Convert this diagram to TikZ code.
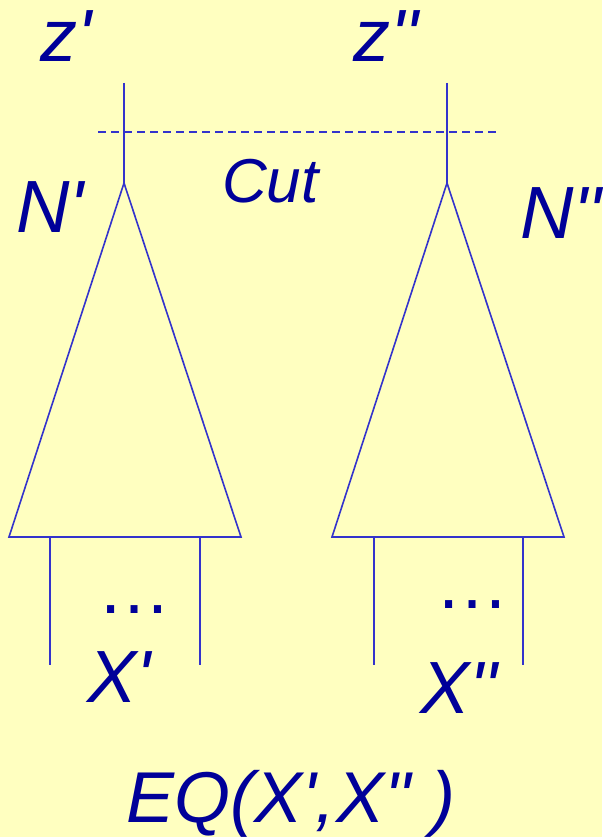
\documentclass[tikz,border=0pt]{standalone}
\usepackage{fontspec}
\newfontfamily\labfont{Liberation Sans}
\usetikzlibrary{positioning}

\definecolor{paper}{HTML}{FFFFC0}
\definecolor{wire}{HTML}{3333CC}
\definecolor{ink}{HTML}{000099}

\begin{document}
\begin{tikzpicture}[
    x=1pt, y=-1pt,
    line/.style={
        draw=wire,
        line width=1.6pt
    },
    cutline/.style={
        line,
        line width=1.4pt,
        dash pattern=on 8pt off 5pt
    },
    lab/.style={
        text=ink,
        inner sep=0pt,
        anchor=base west,
        font=\labfont\itshape\fontsize{74}{80}\selectfont
    },
    dots/.style={
        lab,
        font=\labfont\fontsize{74}{80}\selectfont
    }
]

    % --- PAPER ---
    \fill[paper] (0,0) rectangle (602,837);
    \useasboundingbox (0,0) rectangle (602,837);

    % --- LEFT TREE ---
    \coordinate (ltop) at (124,83);
    \coordinate (lapex) at (124,183);
    \coordinate (lbl) at (9,537);
    \coordinate (lbr) at (241,537);
    \draw[line] (ltop) -- (lapex);
    \draw[line] (lapex) -- (lbl) -- (lbr) -- cycle;
    \draw[line] (50,537) -- (50,665);
    \draw[line] (200,537) -- (200,665);

    % --- RIGHT TREE ---
    \coordinate (rtop) at (447,83);
    \coordinate (rapex) at (447,183);
    \coordinate (rbl) at (332,537);
    \coordinate (rbr) at (564,537);
    \draw[line] (rtop) -- (rapex);
    \draw[line] (rapex) -- (rbl) -- (rbr) -- cycle;
    \draw[line] (374,537) -- (374,665);
    \draw[line] (523,537) -- (523,665);

    % Cut across both roots
    \coordinate (cutl) at (98,132);
    \coordinate (cutr) at (498,132);
    \draw[cutline] (cutl) -- (cutr);

    % --- LABELS ---
    \node[lab] (zl) at (40,62) {z'};
    \node[lab] (zr) at (353,62) {z''};
    \node[lab, font=\labfont\itshape\fontsize{62}{68}\selectfont] (cut) at (222,202) {Cut};
    \node[lab] (nl) at (16,232) {N'};
    \node[lab] (nr) at (520,238) {N''};
    \node[dots] (dl) at (97,613) {\dots};
    \node[dots] (dr) at (435,608) {\dots};
    \node[lab] (xl) at (87,702) {X'};
    \node[lab] (xr) at (420,713) {X''};
    \node[lab, font=\labfont\itshape\fontsize{72}{80}\selectfont] (eq) at (126,822) {EQ(X',X'' )};

\end{tikzpicture}
\end{document}
